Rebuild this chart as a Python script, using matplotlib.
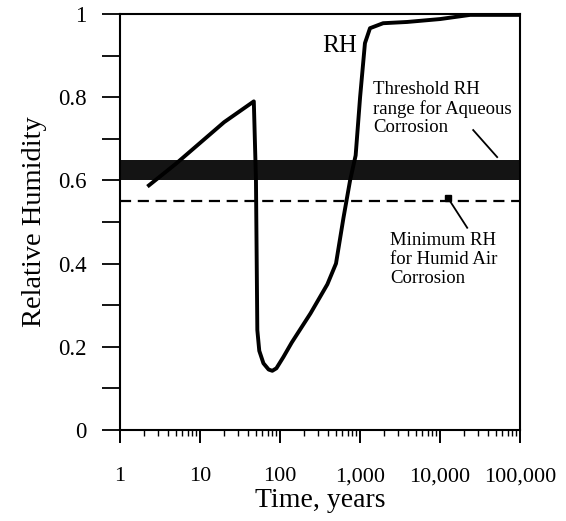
import matplotlib
matplotlib.use("Agg")
import matplotlib.pyplot as plt
import matplotlib.ticker as mticker
import numpy as np

plt.rcParams['font.family'] = ['Liberation Serif', 'DejaVu Serif']

# RH history
years = [2.3, 5, 10, 20, 47, 50, 52, 55, 62, 72, 80, 90, 110, 140, 240, 390, 500,
         620, 750, 880, 1000, 1150, 1330, 1940, 3870, 10000, 23700, 100000]
rh = [0.588, 0.64, 0.69, 0.74, 0.79, 0.60, 0.24, 0.19, 0.16, 0.145, 0.142, 0.148,
      0.175, 0.21, 0.28, 0.35, 0.40, 0.51, 0.60, 0.66, 0.80, 0.93, 0.966, 0.978,
      0.981, 0.988, 0.998, 0.998]

band_lo, band_hi = 0.60, 0.65   # threshold RH for aqueous corrosion
rh_min = 0.55                   # minimum RH for humid air corrosion

xticks = [1, 10, 100, 1000, 10000, 100000]
xlabels = ['1', '10', '100', '1,000', '10,000', '100,000']
yticks = [0, 0.2, 0.4, 0.6, 0.8, 1]
ylabels = ['0', '0.2', '0.4', '0.6', '0.8', '1']

fig = plt.figure(figsize=(5.66, 5.21), dpi=100)
ax = fig.add_axes([0.212, 0.175, 0.707, 0.798])

ax.axhspan(band_lo, band_hi, color='#141414', lw=0)
ax.axhline(rh_min, color='black', lw=1.6, ls=(0, (5, 3)))
ax.plot(years, rh, color='black', lw=2.8, solid_joinstyle='round')

ax.set_xscale('log')
ax.set_xlim(1, 100000)
ax.set_ylim(0, 1)
ax.set_xticks(xticks)
ax.set_xticklabels(xlabels)
ax.xaxis.set_minor_locator(mticker.LogLocator(base=10, subs=np.arange(2, 10), numticks=100))
ax.xaxis.set_minor_formatter(mticker.NullFormatter())
ax.set_yticks(yticks)
ax.set_yticklabels(ylabels)
ax.yaxis.set_minor_locator(mticker.MultipleLocator(0.1))

ax.tick_params(axis='x', which='major', direction='out', length=9.5, width=1.4,
               labelsize=16, pad=17.5)
ax.tick_params(axis='x', which='minor', direction='out', length=4.5, width=1.0)
ax.tick_params(axis='y', which='both', direction='out', length=13, width=1.3,
               labelsize=16.5, pad=11)
for s in ax.spines.values():
    s.set_linewidth(1.5)

ax.set_xlabel('Time, years', fontsize=20, labelpad=1)
ax.set_ylabel('Relative Humidity', fontsize=20.5, labelpad=8)

ax.text(335, 0.923, 'RH', fontsize=18, va='center', ha='left')
ax.text(1450, 0.84, 'Threshold RH\nrange for Aqueous\nCorrosion', fontsize=13.5,
        va='top', ha='left', linespacing=1.15)
ax.plot([25900, 51600], [0.721, 0.656], color='black', lw=1.3)
ax.text(2370, 0.475, 'Minimum RH\nfor Humid Air\nCorrosion', fontsize=13.5,
        va='top', ha='left', linespacing=1.15)
ax.plot([21800, 12600], [0.486, 0.557], color='black', lw=1.3)
ax.plot([12600], [0.557], marker='s', color='black', ms=5)

fig.savefig('out.png', dpi=100)
